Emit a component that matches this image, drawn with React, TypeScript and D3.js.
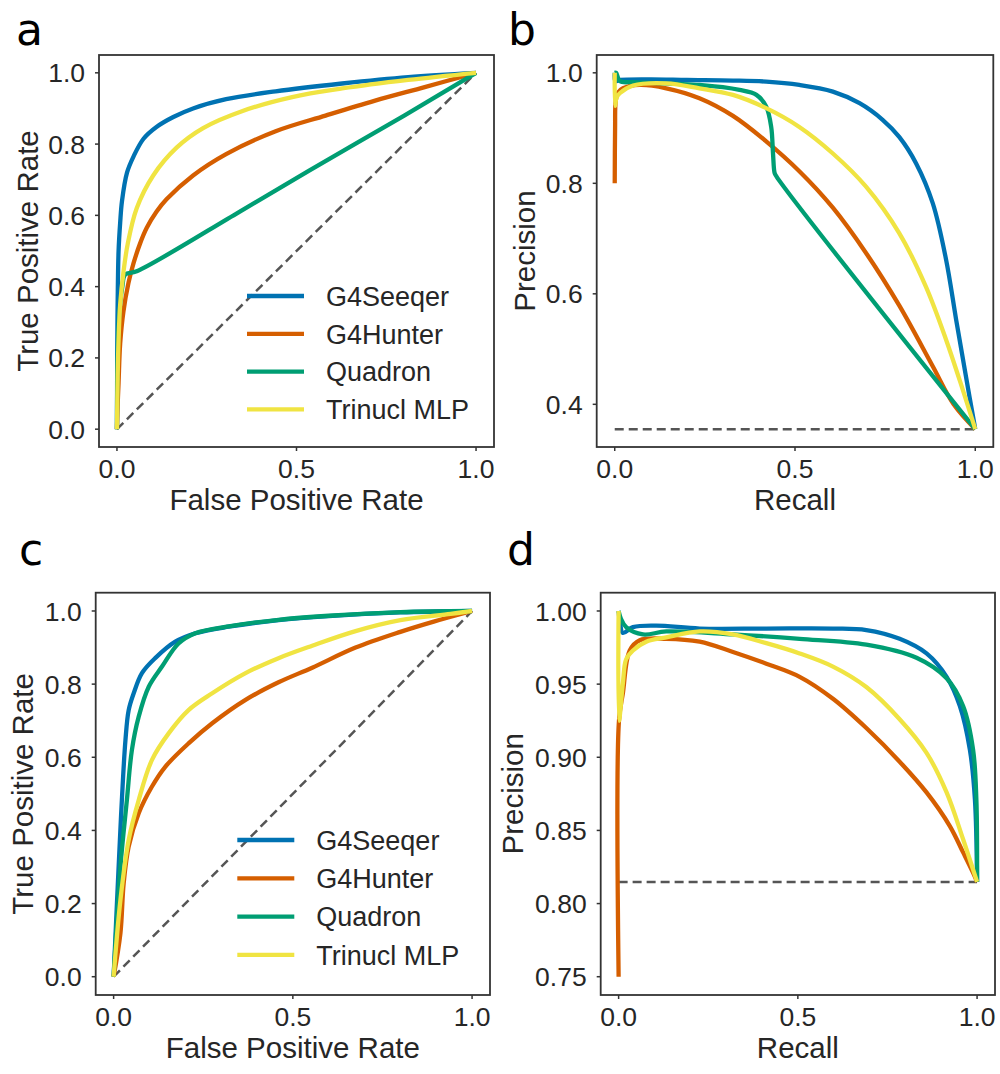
import React from 'react';
import * as d3 from 'd3';

type Pt = [number, number];

const methods = ['G4Seeqer', 'G4Hunter', 'Quadron', 'Trinucl MLP'];
const colors = ['#0072B2', '#D55E00', '#009E73', '#F0E442'];

// ---- Panel a: ROC ----
const rocA_G4Seeqer: Pt[] = [[0,0],[0.001,0.25],[0.002,0.36],[0.0045,0.5],[0.009,0.58],[0.014,0.64],[0.028,0.72],[0.046,0.765],[0.074,0.815],[0.11,0.848],[0.157,0.876],[0.212,0.9],[0.304,0.926],[0.442,0.948],[0.627,0.97],[0.811,0.988],[1,1]];
const rocA_G4Hunter: Pt[] = [[0,0],[0.002,0.07],[0.0045,0.13],[0.009,0.24],[0.018,0.33],[0.032,0.41],[0.046,0.465],[0.064,0.52],[0.083,0.565],[0.11,0.61],[0.138,0.645],[0.212,0.712],[0.304,0.772],[0.442,0.836],[0.581,0.88],[0.719,0.922],[0.857,0.96],[1,1]];
const rocA_Quadron: Pt[] = [[0,0],[0.005,0.3],[0.015,0.4],[0.023,0.434],[0.055,0.443],[0.341,0.61],[0.534,0.725],[0.8,0.88],[1,1]];
const rocA_Trinucl: Pt[] = [[0,0],[0.002,0.15],[0.0045,0.25],[0.009,0.35],[0.018,0.44],[0.03,0.52],[0.055,0.62],[0.101,0.712],[0.166,0.79],[0.24,0.845],[0.35,0.893],[0.488,0.932],[0.627,0.956],[0.811,0.98],[1,1]];

// ---- Panel b: PR ----
const prB_G4Seeqer: Pt[] = [[0,1.0],[0.002,0.985],[0.014,0.987],[0.1,0.988],[0.2,0.987],[0.328,0.986],[0.42,0.984],[0.512,0.978],[0.605,0.966],[0.679,0.945],[0.743,0.915],[0.789,0.884],[0.836,0.836],[0.882,0.764],[0.919,0.662],[0.947,0.553],[0.974,0.451],[1,0.355]];
const prB_G4Hunter: Pt[] = [[0,0.8],[0.001,0.9],[0.003,0.95],[0.01,0.965],[0.023,0.972],[0.069,0.978],[0.143,0.972],[0.235,0.954],[0.328,0.922],[0.42,0.876],[0.512,0.822],[0.605,0.756],[0.697,0.674],[0.789,0.579],[0.882,0.469],[0.94,0.4],[1,0.355]];
const prB_Quadron: Pt[] = [[0,1.0],[0.004,1.0],[0.014,0.985],[0.051,0.983],[0.235,0.978],[0.346,0.969],[0.393,0.96],[0.42,0.939],[0.434,0.902],[0.439,0.854],[0.443,0.82],[0.446,0.815],[1,0.355]];
const prB_Trinucl: Pt[] = [[0,1.0],[0.001,0.94],[0.005,0.955],[0.014,0.963],[0.051,0.977],[0.143,0.981],[0.235,0.972],[0.328,0.96],[0.42,0.936],[0.512,0.902],[0.605,0.854],[0.697,0.794],[0.789,0.71],[0.863,0.613],[0.919,0.517],[0.965,0.427],[1,0.355]];
const baselineB = 0.355;

// ---- Panel c: ROC ----
const rocC_G4Seeqer: Pt[] = [[0,0],[0.014,0.301],[0.023,0.483],[0.033,0.647],[0.042,0.729],[0.056,0.775],[0.079,0.83],[0.116,0.871],[0.172,0.916],[0.228,0.939],[0.321,0.957],[0.46,0.975],[0.6,0.986],[0.8,0.996],[1,1]];
const rocC_G4Hunter: Pt[] = [[0,0],[0.019,0.119],[0.028,0.255],[0.042,0.356],[0.07,0.447],[0.107,0.52],[0.144,0.574],[0.209,0.638],[0.275,0.693],[0.368,0.757],[0.46,0.805],[0.554,0.845],[0.675,0.9],[0.8,0.943],[0.893,0.971],[1,1]];
const rocC_Quadron: Pt[] = [[0,0],[0.019,0.301],[0.037,0.483],[0.051,0.62],[0.07,0.711],[0.098,0.793],[0.135,0.848],[0.181,0.911],[0.228,0.939],[0.321,0.958],[0.46,0.976],[0.6,0.987],[0.8,0.997],[1,1]];
const rocC_Trinucl: Pt[] = [[0,0],[0.019,0.21],[0.042,0.374],[0.07,0.483],[0.107,0.593],[0.154,0.666],[0.209,0.729],[0.275,0.775],[0.368,0.83],[0.46,0.871],[0.554,0.905],[0.675,0.945],[0.8,0.975],[0.94,0.992],[1,1]];

// ---- Panel d: PR ----
const prD_G4Seeqer: Pt[] = [[0,1.0],[0.004,0.992],[0.012,0.985],[0.04,0.989],[0.105,0.99],[0.226,0.988],[0.412,0.988],[0.598,0.988],[0.691,0.987],[0.784,0.981],[0.859,0.971],[0.915,0.955],[0.952,0.935],[0.98,0.905],[0.994,0.871],[1,0.8148]];
const prD_G4Hunter: Pt[] = [[0,0.75],[0.001,0.925],[0.012,0.944],[0.031,0.973],[0.059,0.98],[0.133,0.981],[0.226,0.979],[0.319,0.972],[0.412,0.964],[0.505,0.955],[0.598,0.94],[0.691,0.92],[0.784,0.897],[0.859,0.876],[0.924,0.853],[0.961,0.835],[0.989,0.821],[1,0.8148]];
const prD_Quadron: Pt[] = [[0,1.0],[0.006,0.995],[0.021,0.989],[0.068,0.984],[0.133,0.986],[0.319,0.984],[0.505,0.981],[0.691,0.977],[0.831,0.968],[0.915,0.954],[0.961,0.935],[0.989,0.905],[0.998,0.871],[1,0.8148]];
const prD_Trinucl: Pt[] = [[0,1.0],[0.001,0.925],[0.012,0.951],[0.021,0.967],[0.04,0.973],[0.077,0.979],[0.133,0.982],[0.226,0.986],[0.319,0.984],[0.412,0.978],[0.505,0.971],[0.598,0.962],[0.691,0.948],[0.784,0.926],[0.859,0.903],[0.915,0.876],[0.961,0.844],[1,0.8148]];
const baselineD = 0.8148;

const xTicks = [0, 0.5, 1.0];
const rocYTicks = [0, 0.2, 0.4, 0.6, 0.8, 1.0];
const prBYTicks = [0.4, 0.6, 0.8, 1.0];
const prDYTicks = [0.75, 0.8, 0.85, 0.9, 0.95, 1.0];

const FONT = '"Liberation Sans", Arial, sans-serif';
const TXT = '#262626';

interface PanelProps {
  letter: string;
  letterX: number;
  letterY: number;
  left: number; top: number; right: number; bottom: number;
  xDomain: [number, number];
  yDomain: [number, number];
  yTicks: number[];
  yFmt: (v: number) => string;
  series: Pt[][];
  ref: 'diag' | number;
  xlabel: string;
  ylabel: string;
  ylabelOffset: number;
  legend?: { x: number; y: number; step: number };
}

function Panel(p: PanelProps) {
  const x = d3.scaleLinear().domain(p.xDomain).range([p.left, p.right]);
  const y = d3.scaleLinear().domain(p.yDomain).range([p.bottom, p.top]);
  const line = d3.line<Pt>().x(d => x(d[0])).y(d => y(d[1])).curve(d3.curveCatmullRom.alpha(0.5));
  const refPts: Pt[] = p.ref === 'diag' ? [[0, 0], [1, 1]] : [[0, p.ref], [1, p.ref]];
  const cx = (p.left + p.right) / 2;
  const cy = (p.top + p.bottom) / 2;
  return (
    <g>
      <text x={p.letterX} y={p.letterY} fontFamily='"DejaVu Sans", sans-serif' fontSize={44} fill="#000">{p.letter}</text>
      <path d={d3.line<Pt>().x(d => x(d[0])).y(d => y(d[1]))(refPts) || ''} stroke="#555" strokeWidth={2.5} strokeDasharray="9,5" fill="none" />
      {p.series.map((s, i) => (
        <path key={i} d={line(s) || ''} stroke={colors[i]} strokeWidth={4.3} fill="none" strokeLinejoin="round" strokeLinecap="butt" />
      ))}
      <rect x={p.left} y={p.top} width={p.right - p.left} height={p.bottom - p.top} fill="none" stroke="#333" strokeWidth={1.8} />
      {xTicks.map(t => (
        <g key={'x' + t}>
          <line x1={x(t)} x2={x(t)} y1={p.bottom} y2={p.bottom + 4} stroke="#333" strokeWidth={1.5} />
          <text x={x(t)} y={p.bottom + 31} textAnchor="middle" fontFamily={FONT} fontSize={26.5} fill={TXT}>{d3.format('.1f')(t)}</text>
        </g>
      ))}
      {p.yTicks.map(t => (
        <g key={'y' + t}>
          <line x1={p.left - 4} x2={p.left} y1={y(t)} y2={y(t)} stroke="#333" strokeWidth={1.5} />
          <text x={p.left - 14} y={y(t)} dy="0.36em" textAnchor="end" fontFamily={FONT} fontSize={26.5} fill={TXT}>{p.yFmt(t)}</text>
        </g>
      ))}
      <text x={cx} y={p.bottom + 63} textAnchor="middle" fontFamily={FONT} fontSize={29.5} fill={TXT}>{p.xlabel}</text>
      <text transform={`translate(${p.left - p.ylabelOffset},${cy}) rotate(-90)`} textAnchor="middle" fontFamily={FONT} fontSize={29.5} fill={TXT}>{p.ylabel}</text>
      {p.legend && methods.map((m, i) => {
        const ly = p.legend!.y + i * p.legend!.step;
        return (
          <g key={m}>
            <line x1={p.legend!.x} x2={p.legend!.x + 57} y1={ly} y2={ly} stroke={colors[i]} strokeWidth={4.3} />
            <text x={p.legend!.x + 79} y={ly} dy="0.36em" fontFamily={FONT} fontSize={27} fill={TXT}>{m}</text>
          </g>
        );
      })}
    </g>
  );
}

export default function App() {
  const fmt1 = d3.format('.1f');
  const fmt2 = d3.format('.2f');
  return (
    <div style={{ position: 'absolute', left: 0, top: 0 }}>
      <svg width={1000} height={1074} viewBox="0 0 1000 1074" style={{ display: 'block', background: '#fff' }}>
        <rect width={1000} height={1074} fill="#fff" />
        <Panel letter="a" letterX={16} letterY={45} left={99} top={55} right={494} bottom={447}
          xDomain={[-0.05, 1.05]} yDomain={[-0.05, 1.05]} yTicks={rocYTicks} yFmt={fmt1}
          series={[rocA_G4Seeqer, rocA_G4Hunter, rocA_Quadron, rocA_Trinucl]} ref="diag"
          xlabel="False Positive Rate" ylabel="True Positive Rate" ylabelOffset={61}
          legend={{ x: 247, y: 296, step: 37.8 }} />
        <Panel letter="b" letterX={508} letterY={45} left={596.7} top={55} right={993.3} bottom={447}
          xDomain={[-0.05, 1.05]} yDomain={[baselineB - 0.03225, 1.03225]} yTicks={prBYTicks} yFmt={fmt1}
          series={[prB_G4Seeqer, prB_G4Hunter, prB_Quadron, prB_Trinucl]} ref={baselineB}
          xlabel="Recall" ylabel="Precision" ylabelOffset={62} />
        <Panel letter="c" letterX={19} letterY={565} left={95.7} top={592.7} right={490} bottom={995}
          xDomain={[-0.05, 1.05]} yDomain={[-0.05, 1.05]} yTicks={rocYTicks} yFmt={fmt1}
          series={[rocC_G4Seeqer, rocC_G4Hunter, rocC_Quadron, rocC_Trinucl]} ref="diag"
          xlabel="False Positive Rate" ylabel="True Positive Rate" ylabelOffset={62.7}
          legend={{ x: 237.3, y: 840, step: 38.3 }} />
        <Panel letter="d" letterX={507} letterY={565} left={600.7} top={592.7} right={995} bottom={995}
          xDomain={[-0.05, 1.05]} yDomain={[0.7375, 1.0125]} yTicks={prDYTicks} yFmt={fmt2}
          series={[prD_G4Seeqer, prD_G4Hunter, prD_Quadron, prD_Trinucl]} ref={baselineD}
          xlabel="Recall" ylabel="Precision" ylabelOffset={77.7} />
      </svg>
    </div>
  );
}
